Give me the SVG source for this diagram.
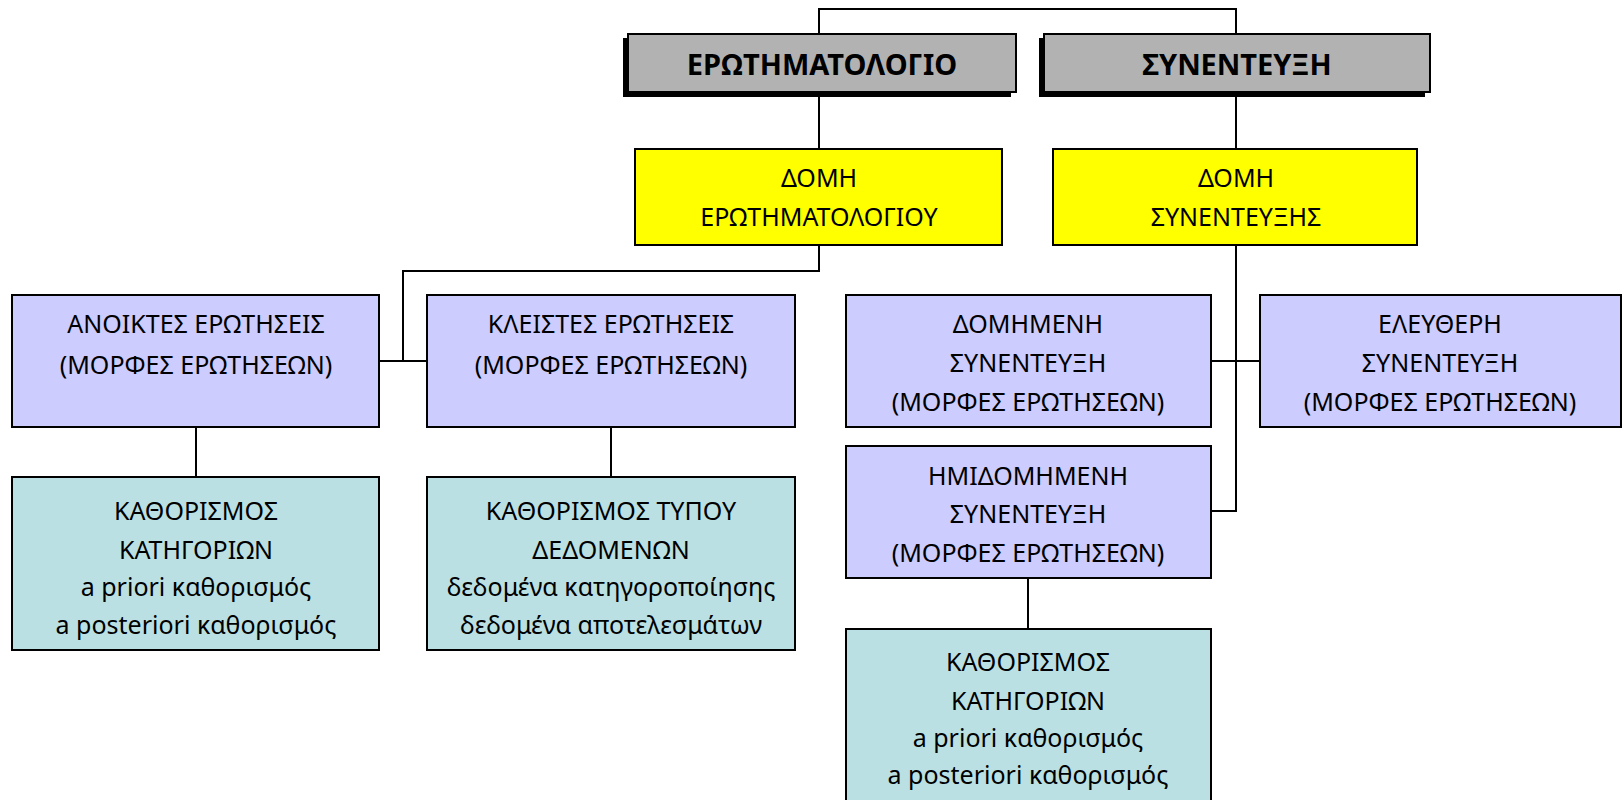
<svg xmlns="http://www.w3.org/2000/svg" width="1623" height="800" viewBox="0 0 1623 800">
<style>
.box{stroke:#000;stroke-width:2}
.gray{fill:#B2B2B2}
.yel{fill:#FFFF00}
.pur{fill:#CCCCFF}
.teal{fill:#BBE0E3}
.sh{fill:#000}
text{font-family:"Noto Sans","DejaVu Sans",sans-serif;font-size:25px;fill:#000;text-anchor:middle}
.b{font-weight:bold;font-size:29px}
.conn{stroke:#000;stroke-width:2;fill:none}
</style>
<rect width="1623" height="800" fill="#fff"/>
<g id="connectors">
<polyline class="conn" points="819,34 819,9 1236,9 1236,34"/>
<line class="conn" x1="819" y1="96" x2="819" y2="149"/>
<line class="conn" x1="1236" y1="96" x2="1236" y2="149"/>
<polyline class="conn" points="819,245 819,271 403,271 403,361"/>
<line class="conn" x1="379" y1="361" x2="427" y2="361"/>
<polyline class="conn" points="1236,245 1236,511 1211,511"/>
<line class="conn" x1="1211" y1="361" x2="1260" y2="361"/>
<line class="conn" x1="196" y1="427" x2="196" y2="477"/>
<line class="conn" x1="611" y1="427" x2="611" y2="477"/>
<line class="conn" x1="1028" y1="578" x2="1028" y2="629"/>
</g>
<g id="n-erotimatologio">
<rect class="sh" x="623" y="38" width="388" height="59"/>
<rect class="box gray" x="628" y="34" width="388" height="58"/>
<text class="b" x="822" y="75">ΕΡΩΤΗΜΑΤΟΛΟΓΙΟ</text>
</g>
<g id="n-synenteuxi">
<rect class="sh" x="1039" y="38" width="386" height="59"/>
<rect class="box gray" x="1044" y="34" width="386" height="58"/>
<text class="b" x="1237" y="75">ΣΥΝΕΝΤΕΥΞΗ</text>
</g>
<g id="n-domi-erot">
<rect class="box yel" x="635" y="149" width="367" height="96"/>
<text x="819" y="187">ΔΟΜΗ</text>
<text x="819" y="226">ΕΡΩΤΗΜΑΤΟΛΟΓΙΟΥ</text>
</g>
<g id="n-domi-syn">
<rect class="box yel" x="1053" y="149" width="364" height="96"/>
<text x="1236" y="187">ΔΟΜΗ</text>
<text x="1236" y="226">ΣΥΝΕΝΤΕΥΞΗΣ</text>
</g>
<g id="n-anoiktes">
<rect class="box pur" x="12" y="295" width="367" height="132"/>
<text x="196" y="333">ΑΝΟΙΚΤΕΣ ΕΡΩΤΗΣΕΙΣ</text>
<text x="196" y="374">(ΜΟΡΦΕΣ ΕΡΩΤΗΣΕΩΝ)</text>
</g>
<g id="n-kleistes">
<rect class="box pur" x="427" y="295" width="368" height="132"/>
<text x="611" y="333">ΚΛΕΙΣΤΕΣ ΕΡΩΤΗΣΕΙΣ</text>
<text x="611" y="374">(ΜΟΡΦΕΣ ΕΡΩΤΗΣΕΩΝ)</text>
</g>
<g id="n-domimeni">
<rect class="box pur" x="846" y="295" width="365" height="132"/>
<text x="1028" y="333">ΔΟΜΗΜΕΝΗ</text>
<text x="1028" y="372">ΣΥΝΕΝΤΕΥΞΗ</text>
<text x="1028" y="411">(ΜΟΡΦΕΣ ΕΡΩΤΗΣΕΩΝ)</text>
</g>
<g id="n-eleftheri">
<rect class="box pur" x="1260" y="295" width="361" height="132"/>
<text x="1440" y="333">ΕΛΕΥΘΕΡΗ</text>
<text x="1440" y="372">ΣΥΝΕΝΤΕΥΞΗ</text>
<text x="1440" y="411">(ΜΟΡΦΕΣ ΕΡΩΤΗΣΕΩΝ)</text>
</g>
<g id="n-imidomimeni">
<rect class="box pur" x="846" y="446" width="365" height="132"/>
<text x="1028" y="485">ΗΜΙΔΟΜΗΜΕΝΗ</text>
<text x="1028" y="523">ΣΥΝΕΝΤΕΥΞΗ</text>
<text x="1028" y="562">(ΜΟΡΦΕΣ ΕΡΩΤΗΣΕΩΝ)</text>
</g>
<g id="n-kath-kat-1">
<rect class="box teal" x="12" y="477" width="367" height="173"/>
<text x="196" y="520">ΚΑΘΟΡΙΣΜΟΣ</text>
<text x="196" y="559">ΚΑΤΗΓΟΡΙΩΝ</text>
<text x="196" y="596">a priori καθορισμός</text>
<text x="196" y="634">a posteriori καθορισμός</text>
</g>
<g id="n-kath-typou">
<rect class="box teal" x="427" y="477" width="368" height="173"/>
<text x="611" y="520">ΚΑΘΟΡΙΣΜΟΣ ΤΥΠΟΥ</text>
<text x="611" y="559">ΔΕΔΟΜΕΝΩΝ</text>
<text x="611" y="596">δεδομένα κατηγοροποίησης</text>
<text x="611" y="634">δεδομένα αποτελεσμάτων</text>
</g>
<g id="n-kath-kat-2">
<rect class="box teal" x="846" y="629" width="365" height="180"/>
<text x="1028" y="671">ΚΑΘΟΡΙΣΜΟΣ</text>
<text x="1028" y="710">ΚΑΤΗΓΟΡΙΩΝ</text>
<text x="1028" y="747">a priori καθορισμός</text>
<text x="1028" y="784">a posteriori καθορισμός</text>
</g>
</svg>
